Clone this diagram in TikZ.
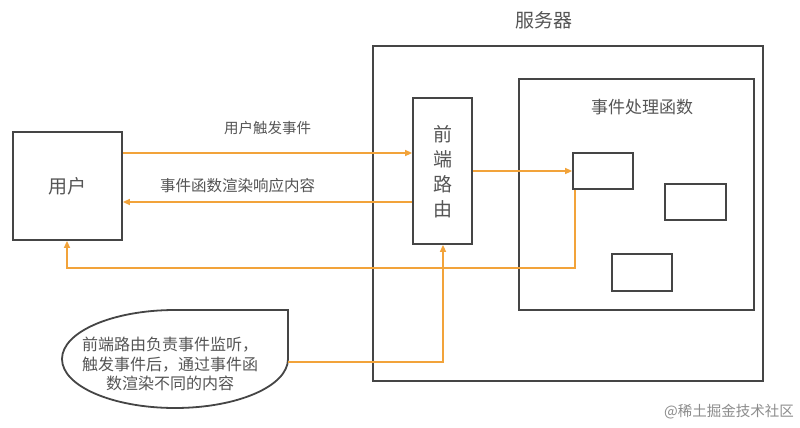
\documentclass[tikz,border=0pt]{standalone}
\usepackage{fontspec}
\setmainfont{Noto Sans CJK SC}
\usetikzlibrary{arrows.meta,positioning}
\definecolor{arr}{HTML}{F2A33A}
\definecolor{edge}{HTML}{454545}
\definecolor{txt}{HTML}{555555}
\tikzset{
  box/.style={draw=edge,line width=1.8pt,inner sep=0pt},
  flow/.style={draw=arr,line width=1.5pt,-{Triangle[length=7pt,width=6pt]}},
  lbl/.style={text=txt,inner sep=0pt},
}
\begin{document}
\begin{tikzpicture}[x=1pt,y=-1pt]
\useasboundingbox[fill=white] (0,0) rectangle (800,428);
% boxes
\node[box,minimum width=109pt,minimum height=108pt,font=\fontsize{19}{20}\selectfont,text=txt] (user) at (67.5,186) {用户};
\node[box,minimum width=390pt,minimum height=335pt] (server) at (568,213.5) {};
\node[lbl,font=\fontsize{19}{20}\selectfont] (serverlbl) at (544,20) {服务器};
\node[box,minimum width=59pt,minimum height=146pt] (router) at (442.5,171) {};
\node[lbl,font=\fontsize{19}{25}\selectfont,align=center] (routerlbl) at (442.5,172) {前\\端\\路\\由};
\node[box,minimum width=235pt,minimum height=231pt] (handler) at (636.5,194.5) {};
\node[lbl,font=\fontsize{17}{20}\selectfont] (handlerlbl) at (642,107) {事件处理函数};
\node[box,minimum width=60pt,minimum height=36pt] (f1) at (603,171) {};
\node[box,minimum width=61pt,minimum height=36pt] (f2) at (695.5,202) {};
\node[box,minimum width=60pt,minimum height=37pt] (f3) at (642,272.5) {};
% callout
\draw[edge,line width=1.8pt] (288,310) -- (175,310) arc[start angle=90,end angle=270,x radius=113,y radius=-49] coordinate (cb) arc[start angle=270,end angle=360,x radius=113,y radius=-49] -- cycle;
\coordinate (cr) at (288,362);
\node[lbl,font=\fontsize{16}{19.5}\selectfont,align=center] (note) at (170,364) {前端路由负责事件监听，\\触发事件后，通过事件函\\数渲染不同的内容};
% arrows
\draw[flow] (user.east |- 0,153) -- node[lbl,above=18pt,font=\fontsize{14.5}{16}\selectfont] (l1) {用户触发事件} (router.west |- 0,153);
\draw[flow] (router.west |- 0,202) -- node[lbl,above=8pt,font=\fontsize{15.5}{16}\selectfont,xshift=-30pt] (l2) {事件函数渲染响应内容} (user.east |- 0,202);
\draw[flow] (router.east |- 0,171) -- (f1.west);
\draw[flow] (f1.south -| 575,0) |- (67,268) -- (user.south -| 67,0);
\draw[flow] (cr) -| (router.south -| 443,0);
% watermark
\node[lbl,text=black!45,font=\fontsize{14.5}{16}\selectfont,anchor=east] (wm) at (794,412) {@稀土掘金技术社区};
\end{tikzpicture}
\end{document}
